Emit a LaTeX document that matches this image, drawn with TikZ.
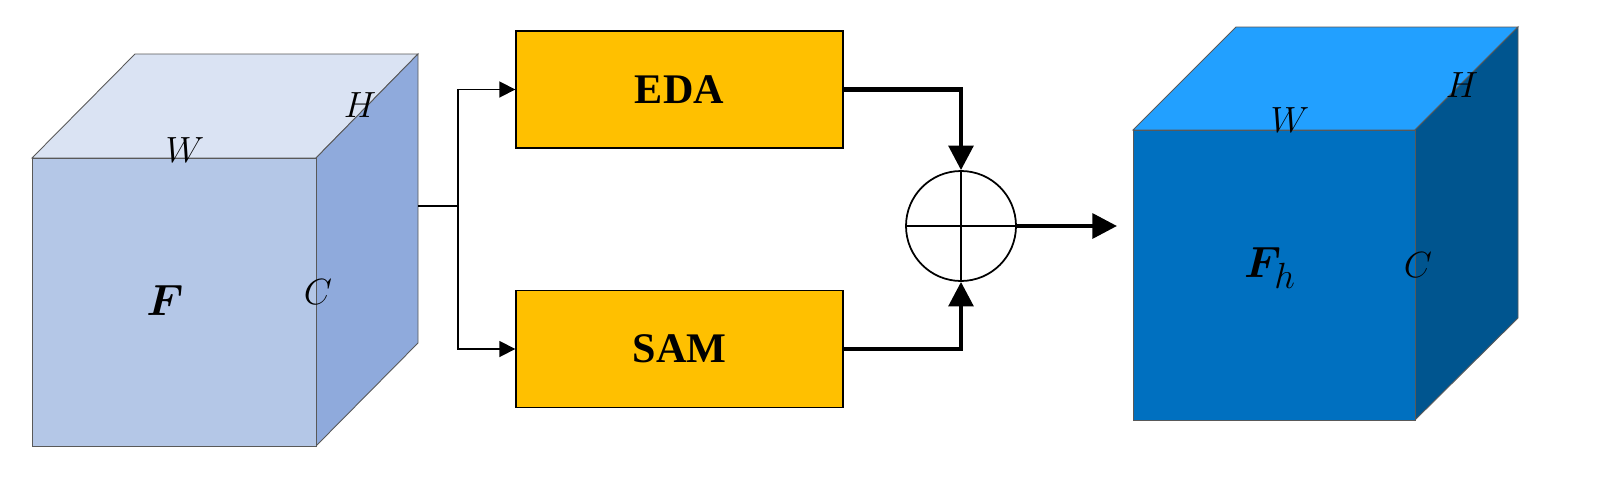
\documentclass[tikz,border=0pt]{standalone}
\usepackage{amsmath,bm}
\usepackage{fontspec}
\setmainfont{Liberation Serif}
\usetikzlibrary{arrows.meta}
\definecolor{lf}{HTML}{B4C7E7}\definecolor{lt}{HTML}{DAE3F3}\definecolor{ls}{HTML}{8FAADC}
\definecolor{rf}{HTML}{0070C0}\definecolor{rt}{HTML}{22A0FF}\definecolor{rs}{HTML}{00558F}
\definecolor{bx}{HTML}{FFC000}
\begin{document}
\begin{tikzpicture}[x=0.02cm,y=-0.02cm,
 face/.style={draw=gray!70!black,line width=0.5pt},
 blk/.style={draw=black,fill=bx,line width=0.8pt,minimum width=327*0.02cm,minimum height=117*0.02cm,font=\bfseries\fontsize{24}{28}\selectfont},
 thin/.style={line width=1pt,-{Triangle[length=9pt,width=9pt]}},
 thick/.style={line width=2.5pt,-{Triangle[length=14pt,width=14pt]}},
 lab/.style={font=\fontsize{20}{24}\selectfont}]
\useasboundingbox (0,0) rectangle (1606,494);
% left cube
\fill[lt,face] (32,158)--(135,54)--(418,54)--(316,158)--cycle;
\fill[ls,face] (316,158)--(418,54)--(418,343)--(316,446)--cycle;
\fill[lf,face] (32,158) rectangle (316,446);
\node[lab] (wl) at (185,150) {$W$};
\node[lab] (hl) at (360,105) {$H$};
\node[lab] (cl) at (318,292) {$C$};
\node[font=\fontsize{28}{32}\selectfont] (F) at (165,300) {$\bm{F}$};
% right cube
\fill[rt,face] (1133,130)--(1236,27)--(1518,27)--(1415,130)--cycle;
\fill[rs,face] (1415,130)--(1518,27)--(1518,318)--(1415,420)--cycle;
\fill[rf,face] (1133,130) rectangle (1415,420);
\node[lab] (wr) at (1290,120) {$W$};
\node[lab] (hr) at (1462,85) {$H$};
\node[lab] (cr) at (1418,265) {$C$};
\node[font=\fontsize{28}{32}\selectfont] (Fh) at (1270,268) {$\bm{F}_h$};
% blocks
\node[blk] (eda) at (679.5,89.5) {EDA};
\node[blk] (sam) at (679.5,349) {SAM};
\node[circle,draw,line width=1pt,minimum size=110*0.02cm,fill=white] (sum) at (961,226) {};
\draw[line width=1pt] (sum.north)--(sum.south) (sum.west)--(sum.east);
\coordinate (out) at (418,206);
\coordinate (sp) at (458,206);
\draw[line width=1pt] (out)--(sp);
\draw[thin] (sp)|-(eda.west);
\draw[thin] (sp)|-(sam.west);
\draw[thick] (eda.east)-|(sum.north);
\draw[thick] (sam.east)-|(sum.south);
\coordinate (rin) at (1117,226);
\draw[thick] (sum.east)--(rin);
\end{tikzpicture}
\end{document}
